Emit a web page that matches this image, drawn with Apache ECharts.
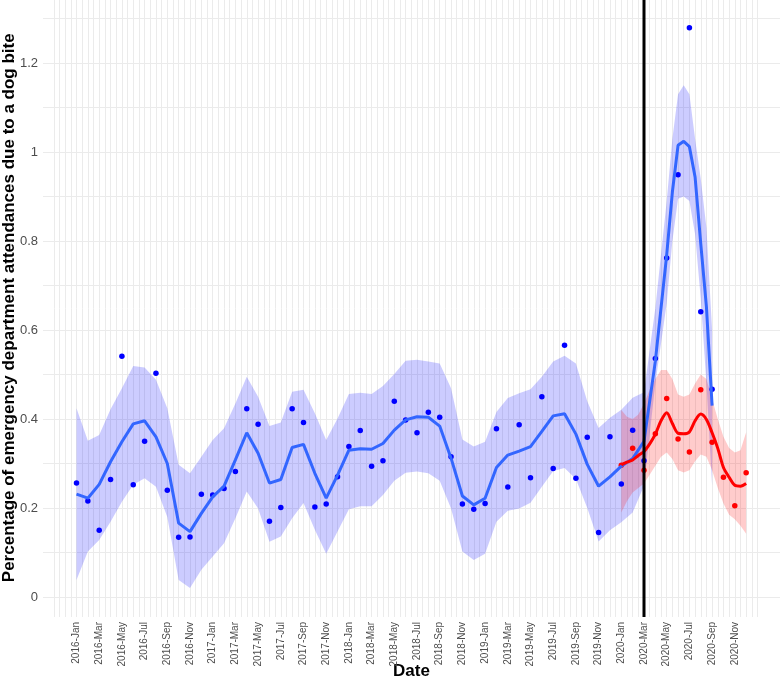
<!DOCTYPE html>
<html><head><meta charset="utf-8">
<script src="https://cdn.jsdelivr.net/npm/echarts@6.0.0/dist/echarts.min.js"></script>
<style>html,body{margin:0;padding:0;background:#fff}#c{width:780px;height:678px}</style>
</head><body><div id="c"></div>
<script>
// Month categories (tick labels shown every second month)
const months = [
 '2016-Jan','2016-Feb','2016-Mar','2016-Apr','2016-May','2016-Jun','2016-Jul','2016-Aug','2016-Sep','2016-Oct','2016-Nov','2016-Dec',
 '2017-Jan','2017-Feb','2017-Mar','2017-Apr','2017-May','2017-Jun','2017-Jul','2017-Aug','2017-Sep','2017-Oct','2017-Nov','2017-Dec',
 '2018-Jan','2018-Feb','2018-Mar','2018-Apr','2018-May','2018-Jun','2018-Jul','2018-Aug','2018-Sep','2018-Oct','2018-Nov','2018-Dec',
 '2019-Jan','2019-Feb','2019-Mar','2019-Apr','2019-May','2019-Jun','2019-Jul','2019-Aug','2019-Sep','2019-Oct','2019-Nov','2019-Dec',
 '2020-Jan','2020-Feb','2020-Mar','2020-Apr','2020-May','2020-Jun','2020-Jul','2020-Aug','2020-Sep','2020-Oct','2020-Nov','2020-Dec'
];
const yTicks = [0, 0.2, 0.4, 0.6, 0.8, 1, 1.2];
const interventionMonth = '2020-Mar';

// Observed percentages, blue series starts 2016-Jan
const bluePoints = [
 0.256,0.216,0.150,0.264,0.541,0.252,0.350,0.503,0.240,0.134,0.135,0.231,
 0.229,0.244,0.282,0.423,0.388,0.170,0.201,0.423,0.392,0.202,0.209,0.270,
 0.338,0.374,0.294,0.306,0.440,0.398,0.369,0.415,0.404,0.315,0.209,0.197,
 0.210,0.378,0.247,0.387,0.268,0.450,0.289,0.566,0.267,0.359,0.145,0.360,
 0.254,0.375,0.306,0.536,0.762,0.949,1.279,0.641,0.467
];
// Red series starts 2020-Jan
const redStart = '2020-Jan';
const redPoints = [0.296,0.334,0.285,0.367,0.446,0.355,0.326,0.466,0.348,0.269,0.205,0.279];

// Smoothed fit for blue series (position in months from 2016-Jan)
const blueFitX = [0,1,2,3,4,5,6,7,8,9,10,11,12,13,14,15,16,17,18,19,20,21,22,23,24,25,26,27,28,29,
 30,31,32,33,34,35,36,37,38,39,40,41,42,43,44,45,46,47,48,49,50,51,52,52.5,53,53.5,54,54.5,55,55.5,56];
const blueFit = [0.231,0.222,0.253,0.304,0.349,0.389,0.396,0.360,0.300,0.166,
 0.147,0.188,0.225,0.249,0.308,0.369,0.323,0.256,0.264,0.336,
 0.343,0.278,0.222,0.274,0.330,0.333,0.332,0.345,0.375,0.398,
 0.405,0.404,0.384,0.312,0.227,0.207,0.222,0.291,0.319,0.328,
 0.338,0.372,0.407,0.412,0.366,0.298,0.249,0.270,0.294,0.311,
 0.350,0.530,0.769,0.910,1.015,1.024,1.012,0.944,0.794,0.652,0.430];
const blueLo = [0.038,0.102,0.128,0.169,0.214,0.252,0.267,0.248,0.180,0.038,
 0.020,0.061,0.091,0.121,0.177,0.237,0.199,0.124,0.136,0.177,
 0.211,0.151,0.097,0.147,0.197,0.204,0.204,0.229,0.261,0.279,
 0.282,0.278,0.261,0.199,0.102,0.083,0.097,0.169,0.194,0.199,
 0.212,0.248,0.283,0.290,0.265,0.200,0.125,0.150,0.168,0.190,
 0.250,0.480,0.660,0.800,0.895,0.900,0.890,0.815,0.670,0.480,0.250];
const blueHi = [0.424,0.351,0.364,0.422,0.469,0.519,0.516,0.488,0.424,0.297,
 0.278,0.315,0.353,0.379,0.435,0.495,0.450,0.384,0.392,0.461,
 0.466,0.413,0.353,0.401,0.456,0.459,0.456,0.474,0.501,0.531,
 0.533,0.529,0.525,0.469,0.354,0.338,0.349,0.416,0.447,0.458,
 0.467,0.495,0.529,0.542,0.525,0.440,0.380,0.403,0.421,0.448,
 0.460,0.650,0.890,1.030,1.130,1.150,1.130,1.030,0.940,0.830,0.600];

// Smoothed fit for red series
const redFitX = [48,48.5,49,49.5,50,50.5,51,51.5,52,52.5,53,53.5,54,54.5,55,55.5,56,56.5,57,57.5,58,58.5,59];
const redFit = [0.297,0.303,0.308,0.318,0.327,0.344,0.366,0.396,0.414,0.390,0.368,0.367,0.371,0.396,0.411,0.399,0.369,0.334,0.291,0.269,0.251,0.249,0.255];
const redLo = [0.190,0.215,0.235,0.245,0.255,0.275,0.295,0.315,0.325,0.310,0.285,0.280,0.285,0.305,0.320,0.315,0.285,0.245,0.210,0.185,0.175,0.160,0.142];
const redHi = [0.420,0.405,0.400,0.410,0.435,0.465,0.490,0.510,0.510,0.490,0.455,0.450,0.455,0.480,0.500,0.490,0.445,0.400,0.360,0.335,0.325,0.330,0.370];

const FONT = 'Liberation Sans, Arial, Helvetica, sans-serif';
const redOffset = months.indexOf(redStart);
const vIdx = months.indexOf(interventionMonth);

const pair = (xs, ys) => xs.map((x, i) => [x, ys[i]]);
function band(xs, lo, hi, color) {
  return {
    type: 'custom', xAxisIndex: 2, yAxisIndex: 2, silent: true,
    data: [[xs[0], lo[0]]],
    renderItem: (params, api) => {
      const top = xs.map((x, i) => api.coord([x, hi[i]]));
      const bot = xs.map((x, i) => api.coord([x, lo[i]])).reverse();
      return {type: 'polygon', shape: {points: top.concat(bot)}, style: {fill: color}};
    }
  };
}

const chart = echarts.init(document.getElementById('c'), null, {renderer: 'canvas'});
chart.setOption({
  animation: false,
  backgroundColor: '#ffffff',
  grid: [
    {left: 43, right: 0, top: 18.5, height: 578.5, outerBoundsMode: 'none', containLabel: false},
    {left: 53.8, right: 22.5, top: 0, height: 617, outerBoundsMode: 'none', containLabel: false},
    {left: 53.8, right: 22.5, top: 18.5, height: 578.5, outerBoundsMode: 'none', containLabel: false}
  ],
  xAxis: [
    {gridIndex: 0, type: 'value', min: 0, max: 1,
     axisLine: {show: false}, axisTick: {show: false}, axisLabel: {show: false}, splitLine: {show: false},
     name: 'Date', nameLocation: 'middle', nameGap: 66, nameMoveOverlap: false,
     nameTextStyle: {fontFamily: FONT, fontWeight: 'bold', fontSize: 17, color: '#000'}},
    {gridIndex: 1, type: 'value', min: -2, max: 60, interval: 0.5,
     axisLine: {show: false}, axisTick: {show: false},
     splitLine: {show: true, lineStyle: {color: '#ebebeb', width: 1}},
     axisLabel: {rotate: 90, fontSize: 10, fontFamily: FONT, color: '#4d4d4d', margin: 5,
       formatter: v => (Number.isInteger(v) && v >= 0 && v % 2 === 0 && v < months.length) ? months[v] : ''}},
    {gridIndex: 2, type: 'value', min: -2, max: 60, show: false}
  ],
  yAxis: [
    {gridIndex: 0, type: 'value', min: 0, max: 1.3, interval: 0.1,
     axisLine: {show: false}, axisTick: {show: false},
     splitLine: {show: true, lineStyle: {color: '#ebebeb', width: 1}},
     axisLabel: {fontSize: 13, fontFamily: FONT, color: '#4d4d4d', margin: 5,
       formatter: v => { const r = Math.round(v * 10); const t = yTicks.find(k => Math.round(k * 10) === r); return t === undefined ? '' : String(t); }},
     name: 'Percentage of emergency department attendances due to a dog bite',
     nameLocation: 'middle', nameGap: 25, nameMoveOverlap: false,
     nameTextStyle: {fontFamily: FONT, fontWeight: 'bold', fontSize: 17, color: '#000'}},
    {gridIndex: 1, type: 'value', min: 0, max: 1, show: false},
    {gridIndex: 2, type: 'value', min: 0, max: 1.3, show: false}
  ],
  series: [
    band(blueFitX, blueLo, blueHi, 'rgba(0,0,255,0.2)'),
    {type: 'line', xAxisIndex: 2, yAxisIndex: 2, symbol: 'none', silent: true,
     lineStyle: {color: '#3366FF', width: 3}, data: pair(blueFitX, blueFit)},
    {type: 'scatter', xAxisIndex: 2, yAxisIndex: 2, symbolSize: 5.5, silent: true,
     itemStyle: {color: '#0000FF', opacity: 1}, data: bluePoints.map((v, i) => [i, v])},
    band(redFitX, redLo, redHi, 'rgba(255,0,0,0.2)'),
    {type: 'line', xAxisIndex: 2, yAxisIndex: 2, symbol: 'none', silent: true, smooth: 0.3,
     lineStyle: {color: '#FF0000', width: 3}, data: pair(redFitX, redFit)},
    {type: 'scatter', xAxisIndex: 2, yAxisIndex: 2, symbolSize: 5.5, silent: true,
     itemStyle: {color: '#FF0000', opacity: 1}, data: redPoints.map((v, i) => [i + redOffset, v])},
    {type: 'line', xAxisIndex: 1, yAxisIndex: 1, symbol: 'none', silent: true, z: 10,
     lineStyle: {color: '#000000', width: 3}, data: [[vIdx, 0], [vIdx, 1]]}
  ]
});
</script></body></html>
